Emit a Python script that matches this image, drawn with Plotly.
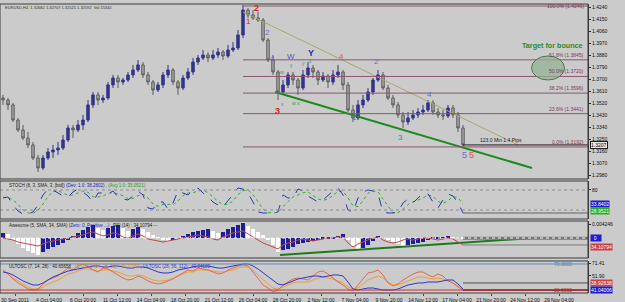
import plotly.graph_objects as go

# ---------------- data ----------------
BARS = list(range(93))
OPEN = [1.3559,1.3544,1.3507,1.3394,1.3319,1.3259,1.3207,1.3109,1.3034,1.3109,
        1.3154,1.3169,1.3184,1.3244,1.3334,1.3319,1.3357,1.3394,1.3507,1.3582,
        1.3544,1.3559,1.3657,1.3709,1.3679,1.3694,1.3732,1.3769,1.3807,1.3732,
        1.3679,1.3619,1.3657,1.3732,1.3769,1.3679,1.3634,1.3709,1.3754,1.3829,
        1.3859,1.3882,1.3859,1.3882,1.3904,1.3874,1.3919,1.3934,1.4032,1.4219,
        1.4182,1.4159,1.4144,1.3994,1.3844,1.3754,1.3604,1.3657,1.3732,1.3694,
        1.3634,1.3732,1.3784,1.3754,1.3694,1.3724,1.3679,1.3732,1.3754,1.3657,
        1.3469,1.3409,1.3507,1.3544,1.3604,1.3694,1.3732,1.3634,1.3559,1.3507,
        1.3432,1.3379,1.3409,1.3432,1.3454,1.3469,1.3522,1.3454,1.3432,1.3424,
        1.3484,1.3432,1.3334]
HIGH = [1.3582,1.3559,1.3522,1.3409,1.3357,1.3304,1.3229,1.3132,1.3132,1.3184,
        1.3207,1.3229,1.3282,1.3357,1.3357,1.3394,1.3432,1.3544,1.3604,1.3604,
        1.3582,1.3679,1.3732,1.3732,1.3709,1.3754,1.3807,1.3844,1.3829,1.3754,
        1.3694,1.3679,1.3754,1.3807,1.3784,1.3694,1.3732,1.3784,1.3859,1.3882,
        1.3919,1.3904,1.3919,1.3934,1.3919,1.3957,1.3979,1.4069,1.4257,1.4234,
        1.4219,1.4204,1.4159,1.4009,1.3882,1.3769,1.3694,1.3754,1.3754,1.3709,
        1.3769,1.3829,1.3807,1.3769,1.3754,1.3739,1.3769,1.3807,1.3769,1.3679,
        1.3507,1.3544,1.3582,1.3634,1.3709,1.3769,1.3754,1.3657,1.3582,1.3529,
        1.3454,1.3454,1.3469,1.3484,1.3507,1.3544,1.3544,1.3484,1.3469,1.3507,
        1.3507,1.3454,1.3357]
LOW = [1.3507,1.3469,1.3379,1.3304,1.3244,1.3184,1.3094,1.3004,1.3019,1.3094,
       1.3109,1.3132,1.3169,1.3229,1.3259,1.3304,1.3319,1.3379,1.3484,1.3507,
       1.3522,1.3544,1.3634,1.3634,1.3657,1.3679,1.3709,1.3754,1.3709,1.3657,
       1.3582,1.3604,1.3634,1.3709,1.3657,1.3582,1.3619,1.3694,1.3732,1.3807,
       1.3844,1.3829,1.3844,1.3859,1.3844,1.3859,1.3904,1.3919,1.4009,1.4159,
       1.4144,1.4129,1.3979,1.3829,1.3732,1.3544,1.3582,1.3634,1.3657,1.3582,
       1.3619,1.3709,1.3709,1.3657,1.3679,1.3634,1.3657,1.3709,1.3619,1.3454,
       1.3379,1.3394,1.3484,1.3529,1.3582,1.3679,1.3619,1.3544,1.3484,1.3409,
       1.3334,1.3357,1.3394,1.3409,1.3432,1.3454,1.3432,1.3409,1.3394,1.3409,
       1.3409,1.3304,1.3184]
CLOSE = [1.3544,1.3507,1.3394,1.3319,1.3259,1.3207,1.3109,1.3034,1.3109,1.3154,
         1.3169,1.3184,1.3244,1.3334,1.3319,1.3357,1.3394,1.3507,1.3582,1.3544,
         1.3559,1.3657,1.3709,1.3679,1.3694,1.3732,1.3769,1.3807,1.3732,1.3679,
         1.3619,1.3657,1.3732,1.3769,1.3679,1.3634,1.3709,1.3754,1.3829,1.3859,
         1.3882,1.3859,1.3882,1.3904,1.3874,1.3919,1.3934,1.4032,1.4219,1.4182,
         1.4159,1.4144,1.3994,1.3844,1.3754,1.3604,1.3657,1.3732,1.3694,1.3634,
         1.3732,1.3784,1.3754,1.3694,1.3724,1.3679,1.3732,1.3754,1.3657,1.3469,
         1.3409,1.3507,1.3544,1.3604,1.3694,1.3732,1.3634,1.3559,1.3507,1.3432,
         1.3379,1.3409,1.3432,1.3454,1.3469,1.3522,1.3454,1.3432,1.3424,1.3484,
         1.3432,1.3334,1.3207]

STOCH_MAIN = [56,59,35,17,8,8,14,35,65,83,80,71,62,59,74,83,74,62,44,71,
              71,68,77,59,53,50,62,77,65,26,23,44,44,23,41,77,71,65,80,86,
              71,59,44,35,29,47,65,86,83,71,44,14,11,11,11,14,65,56,56,83,
              77,62,53,44,50,65,77,86,65,20,14,56,74,80,77,68,14,11,11,14,
              41,53,41,56,71,68,44,26,50,68,62,41,11]
STOCH_SIGNAL = [58,58,50,37,20,11,10,19,38,61,76,78,71,64,65,72,77,73,60,59,
                62,70,72,68,63,54,55,63,68,56,38,31,37,37,36,47,63,71,72,77,
                79,72,58,46,36,37,47,66,78,80,66,43,23,12,11,12,30,45,59,65,
                72,74,64,53,49,53,64,76,76,57,33,30,48,70,77,75,53,31,12,12,
                22,36,45,50,56,65,61,46,40,48,60,57,38]

AO = [0.0015,0.0012,-0.0006,-0.0018,-0.0030,-0.0039,-0.0045,-0.0051,-0.0042,-0.0033,
      -0.0027,-0.0021,-0.0015,-0.0006,0.0006,0.0015,0.0024,0.0033,0.0039,0.0030,
      0.0024,0.0030,0.0036,0.0039,0.0030,0.0021,0.0027,0.0033,0.0027,0.0018,
      0.0009,0.0001,-0.0006,-0.0009,-0.0006,0.0000,0.0006,0.0012,0.0018,0.0021,
      0.0024,0.0027,0.0021,0.0015,0.0018,0.0027,0.0033,0.0039,0.0045,0.0036,
      0.0027,0.0018,0.0009,-0.0006,-0.0021,-0.0042,-0.0036,-0.0033,-0.0027,-0.0018,
      -0.0015,-0.0012,-0.0009,-0.0006,-0.0003,-0.0002,-0.0001,0.0006,0.0012,-0.0006,
      -0.0024,-0.0036,-0.0030,-0.0021,-0.0009,0.0006,0.0000,-0.0006,-0.0012,-0.0018,
      -0.0024,-0.0021,-0.0018,-0.0015,-0.0012,-0.0006,-0.0003,-0.0001,0.0001,0.0003,
      0.0002,0.0000,-0.0003]
RSI = [50,47.7,45.4,40.8,38.6,36.3,34.0,31.7,36.3,40.8,
       43.1,45.4,47.7,50,52.3,54.6,56.9,61.5,63.7,59.2,
       54.6,56.9,61.5,59.2,52.3,50,54.6,59.2,54.6,47.7,
       45.4,43.1,40.8,43.1,45.4,47.7,50,52.3,54.6,56.9,
       54.6,52.3,47.7,45.4,52.3,56.9,61.5,63.7,66.0,59.2,
       52.3,45.4,38.6,34.0,29.4,24.8,34.0,38.6,40.8,45.4,
       47.7,45.4,43.1,45.4,47.7,50,50,52.3,52.3,38.6,
       29.4,36.3,40.8,45.4,50,52.3,45.4,40.8,38.6,40.8,
       45.4,47.7,45.4,47.7,50,50,47.7,45.4,47.7,50,
       47.7,40.8,34.0]

ULT_FAST = [60.8,54.6,46.9,40.8,36.2,31.5,30.0,31.5,39.2,45.4,48.5,
            51.5,57.7,63.8,60.8,66.9,70.0,65.4,60.8,57.7,63.8,
            62.3,57.7,53.1,48.5,45.4,46.9,51.5,48.5,43.9,40.8,
            39.2,40.8,43.9,46.9,51.5,56.2,60.8,59.2,63.8,62.3,
            60.8,57.7,54.6,56.2,60.8,63.8,66.9,68.5,66.9,57.7,
            46.9,37.7,33.1,26.9,30.0,37.7,42.3,46.9,48.5,46.9,
            45.4,51.5,57.7,59.2,54.6,48.5,42.3,37.7,31.5,28.5,
            37.7,48.5,56.2,57.7,60.8,53.1,40.8,36.2,39.2,45.4,
            50.0,54.6,57.7,57.7,53.1,50.0,54.6,51.5,43.9,40.8,
            34.6,30.0]
ULT_MID = [59.2,54.6,48.5,43.9,39.2,34.6,31.5,31.5,34.6,39.2,42.3,
           45.4,50.0,54.6,56.2,59.2,62.3,62.3,60.8,59.2,60.8,
           60.8,59.2,57.7,54.6,51.5,51.5,53.1,51.5,48.5,45.4,
           43.9,43.9,45.4,48.5,51.5,54.6,57.7,57.7,60.8,60.8,
           60.8,59.2,57.7,57.7,59.2,60.8,63.8,65.4,65.4,60.8,
           53.1,45.4,39.2,33.1,31.5,34.6,37.7,40.8,42.3,42.3,
           42.3,45.4,48.5,50.0,48.5,46.9,43.9,40.8,34.6,31.5,
           33.1,39.2,45.4,48.5,51.5,48.5,42.3,37.7,37.7,40.8,
           43.9,46.9,50.0,50.0,48.5,46.9,48.5,46.9,43.9,40.8,
           36.2,30.0]
ULT_SLOW = [57.7,56.2,53.1,48.5,43.9,40.8,37.7,37.7,40.8,45.4,50.0,
            53.1,56.2,59.2,60.8,62.3,63.8,65.4,66.9,66.9,65.4,
            65.4,66.9,66.9,65.4,63.8,63.8,65.4,65.4,63.8,60.8,
            57.7,56.2,56.2,57.7,60.8,62.3,63.8,65.4,66.9,66.9,
            66.9,65.4,63.8,63.8,65.4,66.9,68.5,70.0,70.0,66.9,
            62.3,56.2,50.0,43.9,39.2,37.7,40.8,43.9,46.9,48.5,
            50.0,51.5,51.5,50.0,51.5,53.1,53.1,51.5,42.3,31.5,
            30.0,31.5,33.1,33.1,31.5,30.0,30.0,30.0,31.5,34.6,
            37.7,39.2,40.8,40.8,42.3,42.3,42.3,43.9,45.4,45.4,
            39.2,31.5]

TICK_LABELS = ["30 Sep 2011", "4 Oct 04:00", "6 Oct 20:00", "11 Oct 12:00", "14 Oct 04:00",
               "18 Oct 20:00", "21 Oct 12:00", "26 Oct 04:00", "28 Oct 20:00", "2 Nov 12:00",
               "7 Nov 04:00", "9 Nov 20:00", "14 Nov 12:00", "17 Nov 04:00", "21 Nov 20:00",
               "24 Nov 12:00", "29 Nov 04:00", "1 Dec 20:00"]

FIB_HIGH = 1.4249
FIB_LOW = 1.3192
FIB_RATIOS = [1.0, 0.618, 0.5, 0.382, 0.236, 0.0]
FIB_START = 48
UPPER_TREND = [(48, 1.4204), (103, 1.3207)]
LOWER_TREND = [(54.4, 1.3604), (105.8, 1.3034)]
AO_TREND = [(55.4, -0.0051), (106, 0.0)]
TARGET_ZONE = (105.7, 112.3, 1.3694, 1.3874)

# wave labels: (text, bar, price, colour, size, bold)
WAVES = [("2", 50.6, 1.4234, "#e02020", 9, True), ("1", 49.0, 1.4135, "#e02020", 8, False),
         ("2", 52.8, 1.4054, "#6a6acd", 8, False), ("4", 53.9, 1.3852, "#6a6acd", 8, False),
         ("W", 57.6, 1.3867, "#5050c8", 8, False), ("Y", 61.5, 1.3900, "#2828c0", 9, True),
         ("w", 55.8, 1.3752, "#3a9a6a", 5, False), ("y", 57.6, 1.3810, "#3a9a6a", 5, False),
         ("y", 60.0, 1.3818, "#3a9a6a", 5, False), ("x", 61.4, 1.3840, "#3a9a6a", 5, False),
         ("x", 55.8, 1.3512, "#3a9a6a", 5, False), ("w x", 58.6, 1.3524, "#3a9a6a", 5, False),
         ("3", 54.8, 1.3462, "#e02020", 9, True), ("4", 67.6, 1.3867, "#e06060", 8, False),
         ("1", 70.2, 1.3409, "#6a6acd", 8, False), ("2", 74.6, 1.3829, "#6a6acd", 8, False),
         ("3", 79.4, 1.3259, "#6a6acd", 8, False), ("4", 85.2, 1.3582, "#6a6acd", 8, False),
         ("5", 92.3, 1.3132, "#6a6acd", 9, False), ("5", 93.6, 1.3132, "#e05050", 9, False)]

# ---------------- layout geometry ----------------
BG = "#cbcbcb"
FONT = "Liberation Sans"
XR = [-0.6, 117.0]
D_MAIN = [0.3918, 0.9931]
D_STO = [0.2543, 0.3849]
D_AO = [0.1203, 0.2474]
D_ULT = [0.0, 0.110]

fig = go.Figure()

# price candles
fig.add_trace(go.Candlestick(x=BARS, open=OPEN, high=HIGH, low=LOW, close=CLOSE,
                             increasing=dict(line=dict(color="#34348a", width=1), fillcolor="#34348a"),
                             decreasing=dict(line=dict(color="#5c5c5c", width=1), fillcolor="#a8a8a8"),
                             whiskerwidth=0, xaxis="x", yaxis="y", showlegend=False))

shapes = []
annotations = []

# fib levels
rng = FIB_HIGH - FIB_LOW
for r in FIB_RATIOS:
    lvl = FIB_LOW + r * rng
    shapes.append(dict(type="line", xref="x", yref="y", x0=FIB_START, x1=XR[1], y0=lvl, y1=lvl,
                       line=dict(color="#8a5670", width=1)))
    annotations.append(dict(xref="x", yref="y", x=116.6, y=lvl, xanchor="right",
                            yanchor="middle" if r == 1.0 else "bottom",
                            text=f"{r*100:.1f}% ({lvl:.4f})", showarrow=False,
                            font=dict(size=5, color="#7a3a5a", family=FONT)))

# trend lines
fig.add_trace(go.Scatter(x=[p[0] for p in UPPER_TREND], y=[p[1] for p in UPPER_TREND], mode="lines",
                         line=dict(color="#aaa868", width=1), xaxis="x", yaxis="y", showlegend=False))
fig.add_trace(go.Scatter(x=[p[0] for p in LOWER_TREND], y=[p[1] for p in LOWER_TREND], mode="lines",
                         line=dict(color="#1e8a1e", width=2), xaxis="x", yaxis="y", showlegend=False))
# current price line
fig.add_trace(go.Scatter(x=[BARS[-1], XR[1]], y=[CLOSE[-1], CLOSE[-1]], mode="lines",
                         line=dict(color="#202020", width=1), xaxis="x", yaxis="y", showlegend=False))
annotations.append(dict(xref="x", yref="y", x=99.5, y=CLOSE[-1], yanchor="bottom", text="123.0 Min 1.4 Pips",
                        showarrow=False, font=dict(size=5, color="#202020", family=FONT)))

# target ellipse
x0, x1, y0, y1 = TARGET_ZONE
shapes.append(dict(type="circle", xref="x", yref="y", x0=x0, x1=x1, y0=y0, y1=y1,
                   fillcolor="rgba(150,178,150,0.75)", line=dict(color="#4a7a4a", width=1)))
annotations.append(dict(xref="x", yref="y", x=109.9, y=1.3949, text="<b>Target for bounce</b>", showarrow=False,
                        font=dict(size=7.2, color="#2a8a2a", family=FONT)))

for t, xb, pr, col, sz, bold in WAVES:
    annotations.append(dict(xref="x", yref="y", x=xb, y=pr, text=f"<b>{t}</b>" if bold else t, showarrow=False,
                            font=dict(size=sz, color=col, family=FONT)))

annotations.append(dict(xref="paper", yref="paper", x=0.005, y=0.998, xanchor="left", yanchor="top",
                        text="EURUSD,H4  1.32682 1.32707 1.32525 1.32592  Vol 15340", showarrow=False,
                        font=dict(size=4, color="#303030", family=FONT)))
annotations.append(dict(xref="paper", yref="y", x=1.003, y=CLOSE[-1], xanchor="left",
                        text=f"{CLOSE[-1]:.4f}", showarrow=False, bgcolor="#e8e8e8", bordercolor="#202020",
                        borderwidth=1, borderpad=0, font=dict(size=5, color="#000", family=FONT)))

# ---------- stochastic ----------
for lv in (80, 20):
    shapes.append(dict(type="line", xref="x", yref="y2", x0=XR[0], x1=XR[1], y0=lv, y1=lv,
                       line=dict(color="#8c8c8c", width=1, dash="dot")))
fig.add_trace(go.Scatter(x=BARS, y=STOCH_SIGNAL, mode="lines", line=dict(color="#30b030", width=1, dash="dot"),
                         xaxis="x", yaxis="y2", showlegend=False))
fig.add_trace(go.Scatter(x=BARS, y=STOCH_MAIN, mode="lines", line=dict(color="#2a3ab0", width=1, dash="dash"),
                         xaxis="x", yaxis="y2", showlegend=False))
fig.add_trace(go.Scatter(x=[BARS[-1], XR[1]], y=[STOCH_MAIN[-1], STOCH_MAIN[-1]], mode="lines",
                         line=dict(color="#606060", width=1), xaxis="x", yaxis="y2", showlegend=False))
annotations.append(dict(xref="paper", yref="y2", x=0.012, y=94, xanchor="left",
                        text="STOCH (8, 3, SMA, 3, [bid]) <span style='color:#2020c0'>(Dev: 1.0: 38.2802)</span> , "
                             "<span style='color:#20a020'>(Avg 1.0: 35.0521)</span>",
                        showarrow=False, font=dict(size=4.5, color="#202020", family=FONT)))
annotations.append(dict(xref="paper", yref="y2", x=1.003, y=38, xanchor="left", text="33.8402", showarrow=False,
                        bgcolor="#1c1cd0", borderpad=0, font=dict(size=5, color="#fff", family=FONT)))
annotations.append(dict(xref="paper", yref="y2", x=1.003, y=18, xanchor="left", text="28.9521", showarrow=False,
                        bgcolor="#20b020", borderpad=0, font=dict(size=5, color="#fff", family=FONT)))

# ---------- awesome + RSI ----------
ao_colors = []
for i, v in enumerate(AO):
    rising = i == 0 or v > AO[i - 1]
    ao_colors.append("#1e1e9a" if rising else "#ffffff")
fig.add_trace(go.Bar(x=BARS, y=AO, marker=dict(color=ao_colors, line=dict(width=0)), width=0.75,
                     xaxis="x", yaxis="y3", showlegend=False))
shapes.append(dict(type="line", xref="x", yref="y3", x0=XR[0], x1=XR[1], y0=0, y1=0,
                   line=dict(color="#f2f2f2", width=1, dash="dot")))
fig.add_trace(go.Scatter(x=BARS, y=RSI, mode="lines", line=dict(color="#c04848", width=1),
                         xaxis="x", yaxis="y4", showlegend=False))
fig.add_trace(go.Scatter(x=[p[0] for p in AO_TREND], y=[p[1] for p in AO_TREND], mode="lines",
                         line=dict(color="#1e7a1e", width=2), xaxis="x", yaxis="y3", showlegend=False))
fig.add_trace(go.Scatter(x=[BARS[-1], XR[1]], y=[AO[-1] + 0.0002, AO[-1] + 0.0002], mode="lines",
                         line=dict(color="#7a7a7a", width=3), xaxis="x", yaxis="y3", showlegend=False))
fig.add_trace(go.Scatter(x=[BARS[-1], XR[1]], y=[RSI[-1], RSI[-1]], mode="lines",
                         line=dict(color="#7a7a7a", width=1), xaxis="x", yaxis="y4", showlegend=False))
annotations.append(dict(xref="paper", yref="y3", x=0.012, y=0.0038, xanchor="left",
                        text="Awesome (5, SMA, 34, SMA) <span style='color:#2020c0'>(Zero: 0, Positive ...)</span> , "
                             "RSI (14) : 34.10794 <span style='color:#c04848'>—</span>",
                        showarrow=False, font=dict(size=4.5, color="#202020", family=FONT)))
annotations.append(dict(xref="paper", yref="y3", x=1.003, y=0, xanchor="left", text="  0   ", showarrow=False,
                        bgcolor="#1c1cd0", borderpad=0, font=dict(size=5, color="#fff", family=FONT)))
annotations.append(dict(xref="paper", yref="y4", x=1.003, y=RSI[-1] - 4, xanchor="left", text="34.10794",
                        showarrow=False, bgcolor="#d04040", borderpad=0, font=dict(size=5, color="#fff", family=FONT)))

# ---------- ultimate oscillators ----------
shapes.append(dict(type="line", xref="x", yref="y5", x0=XR[0], x1=XR[1], y0=70, y1=70,
                   line=dict(color="#5b8fc8", width=1)))
shapes.append(dict(type="line", xref="x", yref="y5", x0=XR[0], x1=XR[1], y0=30, y1=30,
                   line=dict(color="#e02828", width=1)))
fig.add_trace(go.Scatter(x=BARS, y=ULT_MID, mode="lines", line=dict(color="#f0a030", width=1),
                         xaxis="x", yaxis="y5", showlegend=False))
fig.add_trace(go.Scatter(x=BARS, y=ULT_FAST, mode="lines", line=dict(color="#e06a5a", width=1),
                         xaxis="x", yaxis="y5", showlegend=False))
fig.add_trace(go.Scatter(x=BARS, y=ULT_SLOW, mode="lines", line=dict(color="#3434c8", width=1),
                         xaxis="x", yaxis="y5", showlegend=False))
fig.add_trace(go.Scatter(x=[BARS[-1], XR[1]], y=[ULT_FAST[-1], ULT_FAST[-1]], mode="lines",
                         line=dict(color="#6a4a4a", width=2), xaxis="x", yaxis="y5", showlegend=False))
fig.add_trace(go.Scatter(x=[BARS[-1], XR[1]], y=[40.8, 40.8], mode="lines",
                         line=dict(color="#505050", width=1), xaxis="x", yaxis="y5", showlegend=False))
annotations.append(dict(xref="paper", yref="y5", x=0.012, y=66, xanchor="left",
                        text="ULTOSC (7, 14, 28) : 40.65658 , <span style='color:#d08020'>ULTOSC (14, 28, 56) : 40.22383</span> , "
                             "<span style='color:#3434c8'>ULTOSC (28, 56, 112) : 40.24100</span>",
                        showarrow=False, font=dict(size=4.5, color="#202020", family=FONT)))
annotations.append(dict(xref="x", yref="y5", x=112, y=70, text="70.0000", showarrow=False,
                        font=dict(size=5, color="#4a7ab8", family=FONT)))
annotations.append(dict(xref="x", yref="y5", x=112, y=30, text="30.0000", showarrow=False,
                        font=dict(size=5, color="#c02020", family=FONT)))
annotations.append(dict(xref="paper", yref="y5", x=1.003, y=40.5, xanchor="left", text="38.92638",
                        showarrow=False, bgcolor="#d04040", borderpad=0, font=dict(size=5, color="#fff", family=FONT)))
annotations.append(dict(xref="paper", yref="y5", x=1.003, y=30, xanchor="left", text="41.04006",
                        showarrow=False, bgcolor="#1c1cd0", borderpad=0, font=dict(size=5, color="#fff", family=FONT)))

# panel frames
for d in (D_MAIN, D_STO, D_AO, D_ULT):
    shapes.append(dict(type="rect", xref="paper", yref="paper", x0=0, x1=1, y0=d[0], y1=d[1],
                       line=dict(color="#3c3c3c", width=1), fillcolor="rgba(0,0,0,0)", layer="above"))

tick_pos = [2.4 + 6.8 * k for k in range(len(TICK_LABELS))]
yax_common = dict(side="right", showgrid=False, zeroline=False, ticks="outside", ticklen=2,
                  tickcolor="#303030", tickfont=dict(size=5, color="#101010", family=FONT),
                  showline=True, linecolor="#3c3c3c", fixedrange=True)

fig.update_layout(
    width=625, height=302, margin=dict(l=0, r=37, t=2, b=9),
    paper_bgcolor=BG, plot_bgcolor=BG, showlegend=False, bargap=0,
    xaxis=dict(domain=[0, 1], range=XR, anchor="y5", showgrid=False, zeroline=False,
               rangeslider=dict(visible=False), tickvals=tick_pos, ticktext=TICK_LABELS,
               ticks="outside", ticklen=2, tickfont=dict(size=5, color="#101010", family=FONT)),
    yaxis=dict(domain=D_MAIN, range=[1.29515, 1.4264], tick0=1.3250, dtick=0.009, tickformat=".4f", **yax_common),
    yaxis2=dict(domain=D_STO, range=[-7, 107], tickvals=[80], **yax_common),
    yaxis3=dict(domain=D_AO, range=[-0.0060, 0.0051], tickvals=[0.0042], ticktext=["0.004246"], **yax_common),
    yaxis4=dict(overlaying="y3", range=[4.2, 88.9], side="right", visible=False, fixedrange=True),
    yaxis5=dict(domain=D_ULT, range=[25.4, 74.6], tickvals=[71.41, 51.9], ticktext=["71.41", "51.90"], **yax_common),
    shapes=shapes, annotations=annotations,
)

fig.write_html("out.html")
